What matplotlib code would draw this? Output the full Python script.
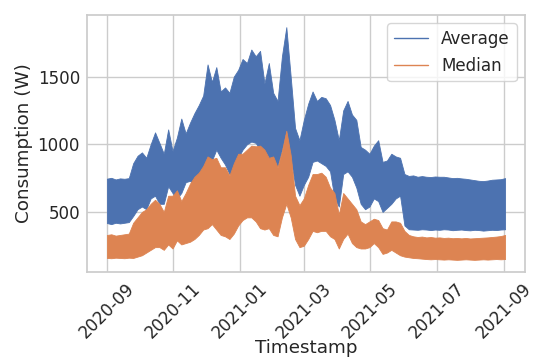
import matplotlib
matplotlib.use("Agg")
import matplotlib.pyplot as plt
from matplotlib.lines import Line2D
import numpy as np
import pandas as pd
import seaborn as sns

# ---- data (envelopes, every ~4 days) ----
dates = pd.date_range("2020-09-01", "2021-09-02", periods=92)

avg_high = [746, 752, 740, 748, 745, 750, 860, 915, 940, 900, 1000, 1088, 1010, 930,
            1110, 950, 1050, 1190, 1080, 1160, 1230, 1290, 1360, 1590, 1460, 1570, 1390,
            1420, 1380, 1500, 1550, 1630, 1600, 1700, 1650, 1690, 1450, 1600, 1380, 1320,
            1650, 1865, 1500, 1120, 1030, 1180, 1300, 1390, 1320, 1350, 1340, 1290, 1180,
            1030, 1250, 1320, 1220, 1180, 980, 960, 930, 990, 1030, 870, 880, 930, 910,
            900, 780, 766, 770, 760, 765, 760, 758, 762, 760, 760, 755, 750, 752, 748,
            745, 740, 735, 730, 728, 732, 738, 740, 742, 750]
avg_low = [418, 410, 420, 415, 420, 425, 470, 520, 540, 520, 600, 620, 560, 560,
           690, 640, 600, 640, 720, 730, 700, 720, 800, 900, 880, 960, 900,
           850, 780, 800, 900, 960, 1000, 1020, 1010, 960, 920, 870, 850, 840,
           960, 1100, 900, 700, 620, 700, 760, 870, 880, 860, 840, 800, 600,
           540, 780, 800, 760, 680, 560, 520, 540, 600, 580, 500, 530, 560, 600,
           620, 400, 372, 370, 368, 372, 370, 366, 370, 368, 372, 370, 365, 368, 370,
           366, 364, 368, 366, 362, 365, 368, 366, 370, 372]
med_high = [330, 335, 325, 330, 335, 340, 420, 460, 500, 520, 560, 590, 560, 500,
            620, 620, 660, 580, 640, 710, 760, 790, 840, 910, 890, 900, 830,
            830, 770, 860, 930, 930, 960, 990, 985, 990, 960, 900, 910, 830,
            950, 1100, 920, 620, 550, 600, 700, 780, 780, 790, 760, 680, 640,
            480, 640, 600, 560, 520, 430, 410, 430, 450, 440, 380, 370, 430, 430,
            420, 360, 330, 320, 315, 318, 312, 315, 310, 312, 308, 310, 306, 308, 305,
            308, 304, 306, 308, 310, 312, 315, 318, 322, 330]
med_low = [160, 158, 162, 160, 158, 162, 160, 170, 180, 200, 220, 240, 240, 220,
           260, 230, 290, 260, 270, 280, 300, 330, 370, 380, 410, 370, 330,
           320, 300, 340, 400, 440, 460, 460, 430, 380, 370, 380, 330, 320,
           460, 560, 460, 300, 240, 250, 300, 360, 350, 360, 360, 320, 300,
           230, 300, 340, 270, 240, 230, 230, 240, 270, 240, 190, 200, 220, 200,
           180, 170, 165, 160, 158, 155, 152, 150, 152, 150, 148, 150, 148, 146, 148,
           150, 148, 146, 148, 150, 148, 150, 152, 150, 152]

series_names = ["Average", "Median"]
tick_dates = ["2020-09", "2020-11", "2021-01", "2021-03", "2021-05", "2021-07", "2021-09"]

# ---- style ----
sns.set_theme(style="whitegrid")
plt.rcParams["font.family"] = ["DejaVu Sans"]
blue, orange = sns.color_palette("deep")[0], sns.color_palette("deep")[1]

fig = plt.figure(figsize=(5.36, 3.62), dpi=100)
ax = fig.add_axes([87 / 536, 1 - 271.5 / 362, (525 - 87) / 536, (271.5 - 15) / 362])

ax.fill_between(dates, avg_low, avg_high, color=blue, lw=0.6, edgecolor=blue)
ax.fill_between(dates, med_low, med_high, color=orange, lw=0.6, edgecolor=orange)

start = pd.Timestamp("2020-09-01")
ax.set_xlim(start - pd.Timedelta(days=18.3), start + pd.Timedelta(days=384.3))
ax.set_ylim(60, 1955)
ax.set_yticks([500, 1000, 1500])
ax.set_xticks(pd.to_datetime(tick_dates))
ax.set_xticklabels(tick_dates, rotation=45)
ax.tick_params(axis="both", labelsize=12.1, length=0)
ax.tick_params(axis="y", pad=5)
ax.tick_params(axis="x", pad=6)

ax.set_xlabel("Timestamp", fontsize=13.2)
ax.set_ylabel("Consumption (W)", fontsize=13.2)
ax.xaxis.set_label_coords(0.5, -0.265)
ax.yaxis.set_label_coords(-0.123, 0.5)

handles = [Line2D([], [], color=blue, lw=1), Line2D([], [], color=orange, lw=1)]
ax.legend(handles, series_names, loc="upper right", fontsize=12.1)

fig.savefig("out.png", dpi=100)
